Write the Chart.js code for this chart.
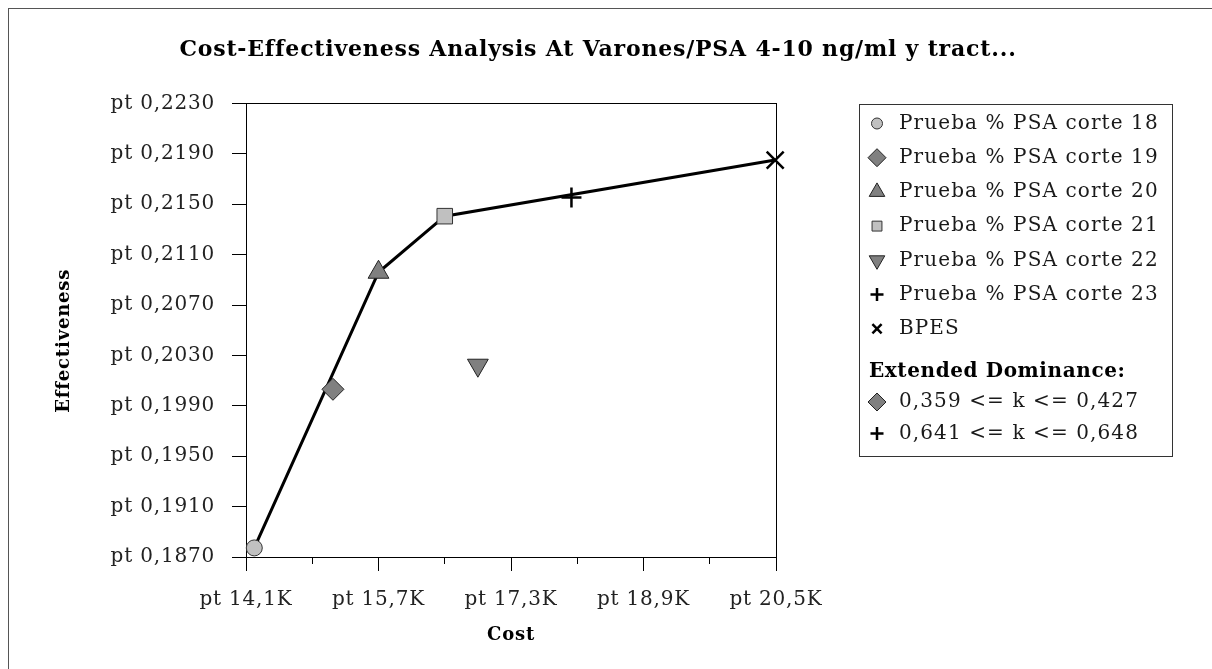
<!DOCTYPE html>
<html>
<head>
<meta charset="utf-8">
<script src="https://cdn.jsdelivr.net/npm/chart.js@4/dist/chart.umd.min.js"></script>
<style>
  html, body { margin: 0; padding: 0; overflow: hidden; background: #fff; }
  #frame { position: absolute; left: 8px; top: 8px; width: 1240px; height: 700px; border: 1px solid #555; }
  #wrap { position: absolute; left: 0; top: 0; width: 1212px; height: 669px; }
</style>
</head>
<body>
<div id="frame"></div>
<div id="wrap"><canvas id="ceaChart"></canvas></div>
<script>
// Datos (coste en $, efectividad)
const strategies = [
  'Prueba % PSA corte 18',
  'Prueba % PSA corte 19',
  'Prueba % PSA corte 20',
  'Prueba % PSA corte 21',
  'Prueba % PSA corte 22',
  'Prueba % PSA corte 23',
  'BPES'
];
const costs = [14200, 15150, 15700, 16500, 16900, 18030, 20490];
const effects = [0.18772, 0.20031, 0.20960, 0.21405, 0.20222, 0.21553, 0.21850];
const frontier = [0, 2, 3, 6]; // estrategias no dominadas (línea)
const extDominated = [1, 5];
const extLabels = ['0,359 <= k <= 0,427', '0,641 <= k <= 0,648'];

// Ejes
const costMin = 14100, costMax = 20500, costStep = 800;
const effMin = 0.1870, effMax = 0.2230, effStep = 0.004;

const FONT = 'DejaVu Serif';

// Estilo de cada marcador (gráfico y leyenda)
const markers = [
  { pointStyle: 'circle',   rotation: 0,   radius: 8,  legendRadius: 5.5, bg: '#c0c0c0', border: '#333', width: 1 },
  { pointStyle: 'rectRot',  rotation: 0,   radius: 11, legendRadius: 9,   bg: '#808080', border: '#222', width: 1 },
  { pointStyle: 'triangle', rotation: 0,   radius: 12, legendRadius: 9,   bg: '#808080', border: '#222', width: 1 },
  { pointStyle: 'rect',     rotation: 0,   radius: 11, legendRadius: 7,   bg: '#c0c0c0', border: '#333', width: 1 },
  { pointStyle: 'triangle', rotation: 180, radius: 12, legendRadius: 9,   bg: '#808080', border: '#222', width: 1 },
  { pointStyle: 'cross',    rotation: 0,   radius: 10, legendRadius: 6.5, bg: '#000',    border: '#000', width: 2.5 },
  { pointStyle: 'crossRot', rotation: 0,   radius: 12, legendRadius: 6.5, bg: '#000',    border: '#000', width: 2.5 }
];

const fmtCost = v => 'pt ' + (v / 1000).toFixed(1).replace('.', ',') + 'K';
const fmtEff = v => 'pt ' + v.toFixed(4).replace('.', ',');

// Datasets: un punto por estrategia + línea de la frontera
const datasets = strategies.map((name, i) => ({
  label: name,
  data: [{ x: costs[i], y: effects[i] }],
  showLine: false,
  clip: false,
  pointStyle: markers[i].pointStyle,
  rotation: markers[i].rotation,
  pointRadius: markers[i].radius,
  pointBackgroundColor: markers[i].bg,
  pointBorderColor: markers[i].border,
  pointBorderWidth: markers[i].width,
  order: 0
}));
datasets.push({
  label: 'frontier',
  data: frontier.map(i => ({ x: costs[i], y: effects[i] })),
  showLine: true,
  clip: false,
  borderColor: '#000',
  borderWidth: 3,
  pointRadius: 0,
  fill: false,
  order: 10
});

function markerAt(ctx, m, x, y) {
  ctx.save();
  ctx.fillStyle = m.bg;
  ctx.strokeStyle = m.border;
  ctx.lineWidth = m.width;
  Chart.helpers.drawPoint(ctx, { pointStyle: m.pointStyle, rotation: m.rotation, radius: m.legendRadius, borderWidth: m.width }, x, y);
  ctx.restore();
}

// Espaciado de letras un poco más ancho, como en el original
const textSpacing = {
  id: 'textSpacing',
  beforeDraw(chart) {
    if ('letterSpacing' in chart.ctx) chart.ctx.letterSpacing = '0.8px';
  }
};

// Marco del área del gráfico (arriba y derecha)
const plotFrame = {
  id: 'plotFrame',
  beforeDatasetsDraw(chart) {
    const { ctx, chartArea: a } = chart;
    ctx.save();
    ctx.strokeStyle = '#000';
    ctx.lineWidth = 1;
    ctx.strokeRect(Math.round(a.left) + 0.5, Math.round(a.top) + 0.5, Math.round(a.right - a.left), Math.round(a.bottom - a.top));
    ctx.restore();
  }
};

// Leyenda propia con la sección "Extended Dominance"
const ceaLegend = {
  id: 'ceaLegend',
  afterDraw(chart) {
    const ctx = chart.ctx;
    const boxX = 859.5, boxY = 104.5, boxW = 313, boxH = 352;
    const mx = 877, tx = 899;
    ctx.save();
    if ('letterSpacing' in ctx) ctx.letterSpacing = '1.1px';
    ctx.fillStyle = '#fff';
    ctx.fillRect(boxX, boxY, boxW, boxH);
    ctx.strokeStyle = '#333';
    ctx.lineWidth = 1;
    ctx.strokeRect(boxX, boxY, boxW, boxH);
    ctx.textBaseline = 'middle';
    ctx.textAlign = 'left';
    strategies.forEach((name, i) => {
      const y = 123.5 + 34.2 * i;
      markerAt(ctx, markers[i], mx, y);
      ctx.fillStyle = '#1a1a1a';
      ctx.font = '20px "' + FONT + '"';
      ctx.fillText(name, tx, y);
    });
    ctx.fillStyle = '#000';
    ctx.font = 'bold 20px "' + FONT + '"';
    if ('letterSpacing' in ctx) ctx.letterSpacing = '0.6px';
    ctx.fillText('Extended Dominance:', 869, 372);
    if ('letterSpacing' in ctx) ctx.letterSpacing = '1.1px';
    extDominated.forEach((idx, j) => {
      const y = 402 + 31.6 * j;
      markerAt(ctx, markers[idx], mx, y);
      ctx.fillStyle = '#1a1a1a';
      ctx.font = '20px "' + FONT + '"';
      ctx.fillText(extLabels[j], tx, y);
    });
    ctx.restore();
  }
};

new Chart(document.getElementById('ceaChart'), {
  type: 'scatter',
  data: { datasets },
  options: {
    responsive: true,
    maintainAspectRatio: false,
    animation: false,
    events: [],
    layout: { padding: { left: 0, top: 0, right: 16, bottom: 0 } },
    plugins: {
      legend: { display: false },
      tooltip: { enabled: false },
      title: {
        display: true,
        text: 'Cost-Effectiveness Analysis At Varones/PSA 4-10 ng/ml y tract...',
        color: '#000',
        font: { family: FONT, size: 22, weight: 'bold' },
        padding: { top: 37, bottom: 40 }
      }
    },
    scales: {
      x: {
        type: 'linear',
        min: costMin,
        max: costMax,
        afterFit(s) { s.height = 112; },
        border: { display: true, color: '#000', width: 1 },
        grid: {
          drawOnChartArea: false,
          drawTicks: true,
          tickLength: 14,
          tickColor: '#000',
          tickWidth: 1,
          tickBorderDash: c => (c.index % 2 ? [6, 100] : [])
        },
        ticks: {
          stepSize: costStep,
          autoSkip: false,
          maxRotation: 0,
          padding: 17,
          color: '#222',
          font: { family: FONT, size: 20 },
          callback: (v, i) => (i % 2 === 0 ? fmtCost(v) : '')
        },
        title: {
          display: true,
          text: 'Cost',
          color: '#000',
          font: { family: FONT, size: 18, weight: 'bold' },
          padding: { top: 0, bottom: 23 }
        }
      },
      y: {
        type: 'linear',
        min: effMin,
        max: effMax,
        afterFit(s) { s.width = 246; },
        border: { display: true, color: '#000', width: 1 },
        grid: {
          drawOnChartArea: false,
          drawTicks: true,
          tickLength: 14,
          tickColor: '#000'
        },
        ticks: {
          stepSize: effStep,
          autoSkip: false,
          padding: 17,
          color: '#222',
          font: { family: FONT, size: 20 },
          callback: v => fmtEff(v)
        },
        title: {
          display: true,
          // espacios finales: bajan un poco el texto girado, como en el original
          text: 'Effectiveness\u00a0\u00a0\u00a0',
          color: '#000',
          font: { family: FONT, size: 18, weight: 'bold' },
          padding: { top: 54, bottom: 0 }
        }
      },
      // eje vacío a la derecha: reserva el espacio de la leyenda
      legendSpace: {
        type: 'linear',
        position: 'right',
        display: true,
        afterFit(s) { s.width = 420; },
        border: { display: false },
        grid: { display: false, drawTicks: false },
        ticks: { display: false }
      }
    }
  },
  plugins: [textSpacing, plotFrame, ceaLegend]
});
</script>
</body>
</html>
